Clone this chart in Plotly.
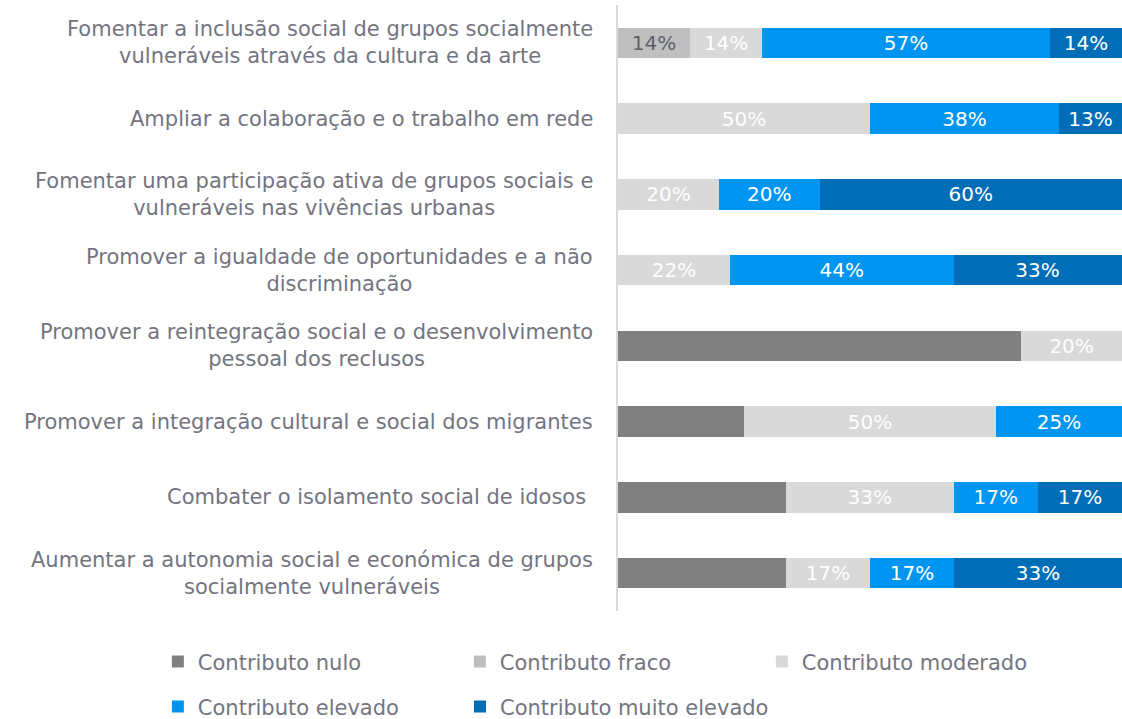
import plotly.graph_objects as go

categories = [
    "Fomentar a inclusão social de grupos socialmente<br>vulneráveis através da cultura e da arte",
    "Ampliar a colaboração e o trabalho em rede",
    "Fomentar uma participação ativa de grupos sociais e<br>vulneráveis nas vivências urbanas",
    "Promover a igualdade de oportunidades e a não<br>discriminação",
    "Promover a reintegração social e o desenvolvimento<br>pessoal dos reclusos",
    "Promover a integração cultural e social dos migrantes",
    "Combater o isolamento social de idosos ",
    "Aumentar a autonomia social e económica de grupos<br>socialmente vulneráveis",
]

series_names = ["Contributo nulo", "Contributo fraco", "Contributo moderado",
                "Contributo elevado", "Contributo muito elevado"]

nulo = [0, 0, 0, 0, 80, 25, 33.3, 33.3]
fraco = [14.3, 0, 0, 0, 0, 0, 0, 0]
moderado = [14.3, 50, 20, 22.2, 20, 50, 33.3, 16.7]
elevado = [57.1, 37.5, 20, 44.4, 0, 25, 16.7, 16.7]
muito_elevado = [14.3, 12.5, 60, 33.3, 0, 0, 16.7, 33.3]

colors = ["#808080", "#bfbfbf", "#d9d9d9", "#0095f0", "#006eb6"]
text_colors = ["#808080", "#5f5f6a", "#ffffff", "#ffffff", "#ffffff"]
show_text = [False, True, True, True, True]
legend_ids = ["legend", "legend", "legend", "legend2", "legend3"]

values = [nulo, fraco, moderado, elevado, muito_elevado]

FONT = "DejaVu Sans"
GREY = "#747480"
FS = 21
FS_BAR = 20

fig = go.Figure()
for name, vals, col, tcol, st, lg in zip(series_names, values, colors, text_colors, show_text, legend_ids):
    texts = [(f"{int(v + 0.5)}%" if (st and v > 0) else "") for v in vals]
    fig.add_trace(go.Bar(
        y=categories, x=vals, name=name, orientation="h",
        marker=dict(color=col, line=dict(width=0)),
        text=texts, textposition="inside", insidetextanchor="middle",
        textfont=dict(color=tcol, size=FS_BAR, family=FONT),
        textangle=0, constraintext="none",
        hoverinfo="x+name", legend=lg,
    ))

for cat in categories:
    fig.add_annotation(
        x=-0.045, xref="paper", xanchor="right",
        y=cat, yref="y", yanchor="middle",
        text=cat, showarrow=False, align="center",
        font=dict(size=FS, color=GREY, family=FONT),
    )

leg_common = dict(orientation="h", xanchor="left", yanchor="middle",
                  font=dict(size=FS, color=GREY, family=FONT),
                  traceorder="normal", itemwidth=30, bgcolor="rgba(0,0,0,0)")

fig.update_layout(
    barmode="stack",
    width=1122, height=719,
    margin=dict(l=618, r=0, t=5, b=108, autoexpand=False),
    paper_bgcolor="white", plot_bgcolor="white",
    bargap=0.6,
    font=dict(family=FONT, color=GREY, size=FS),
    xaxis=dict(range=[0, 100], visible=False, fixedrange=True, automargin=False),
    yaxis=dict(autorange="reversed", showline=True, linecolor="#d9d9e0", linewidth=2,
               showticklabels=False, ticks="", showgrid=False, automargin=False),
    legend=dict(x=-0.913, y=-0.084, entrywidth=257, entrywidthmode="pixels", **leg_common),
    legend2=dict(x=-0.913, y=-0.158, **leg_common),
    legend3=dict(x=-0.3135, y=-0.158, **leg_common),
)

fig.write_html("out.html", config={"displayModeBar": False},
               post_script="document.body.style.margin='0';")
